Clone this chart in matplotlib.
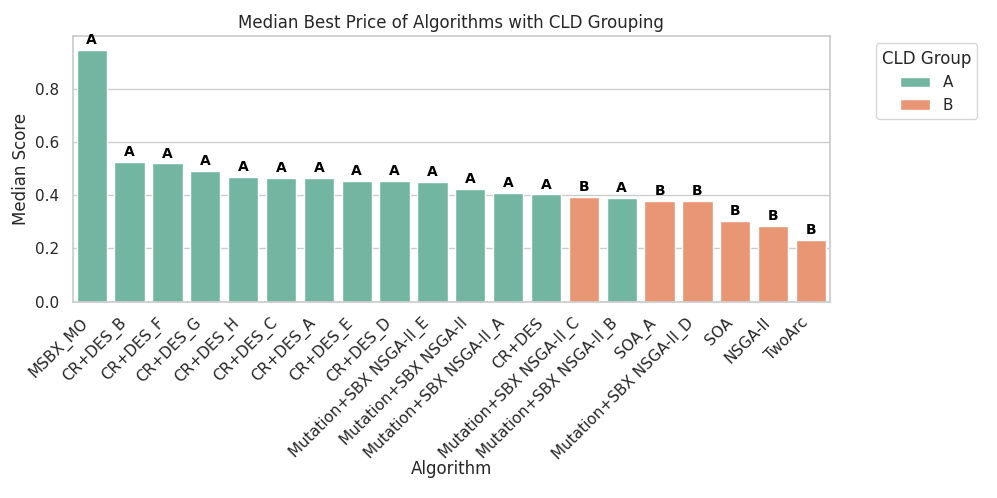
import matplotlib
matplotlib.use("Agg")
import matplotlib.pyplot as plt
import seaborn as sns
import pandas as pd

algorithms = ["MSBX_MO", "CR+DES_B", "CR+DES_F", "CR+DES_G", "CR+DES_H", "CR+DES_C",
              "CR+DES_A", "CR+DES_E", "CR+DES_D", "Mutation+SBX NSGA-II_E",
              "Mutation+SBX NSGA-II", "Mutation+SBX NSGA-II_A", "CR+DES",
              "Mutation+SBX NSGA-II_C", "Mutation+SBX NSGA-II_B", "SOA_A",
              "Mutation+SBX NSGA-II_D", "SOA", "NSGA-II", "TwoArc"]
medians = [0.946, 0.525, 0.519, 0.492, 0.470, 0.464, 0.464, 0.454, 0.454, 0.450,
           0.423, 0.410, 0.403, 0.393, 0.391, 0.379, 0.378, 0.304, 0.286, 0.233]
groups = ["A", "A", "A", "A", "A", "A", "A", "A", "A", "A",
          "A", "A", "A", "B", "A", "B", "B", "B", "B", "B"]

df = pd.DataFrame({"Algorithm": algorithms, "Median Score": medians, "CLD Group": groups})

sns.set_theme(style="whitegrid")
fig, ax = plt.subplots(figsize=(9.97, 4.98), dpi=100)
fig.subplots_adjust(left=0.073, right=0.8325, top=0.928, bottom=0.394)

palette = sns.color_palette("Set2", 2)
sns.barplot(data=df, x="Algorithm", y="Median Score", hue="CLD Group",
            hue_order=["A", "B"], palette=palette, dodge=False, ax=ax)

for i, (v, g) in enumerate(zip(medians, groups)):
    ax.text(i, v + 0.01, g, ha="center", va="bottom", fontsize=10,
            fontweight="bold", color="black")

ax.set_ylim(0, 0.998)
ax.set_title("Median Best Price of Algorithms with CLD Grouping", fontsize=12)
ax.set_xlabel("Algorithm", fontsize=12, labelpad=-2)
ax.set_ylabel("Median Score", fontsize=12)
ax.tick_params(axis="both", labelsize=11)
plt.setp(ax.get_xticklabels(), rotation=45, ha="right")
ax.legend(title="CLD Group", bbox_to_anchor=(1.05, 1), loc="upper left",
          fontsize=11, title_fontsize=12)

fig.savefig("out.png", dpi=100)
